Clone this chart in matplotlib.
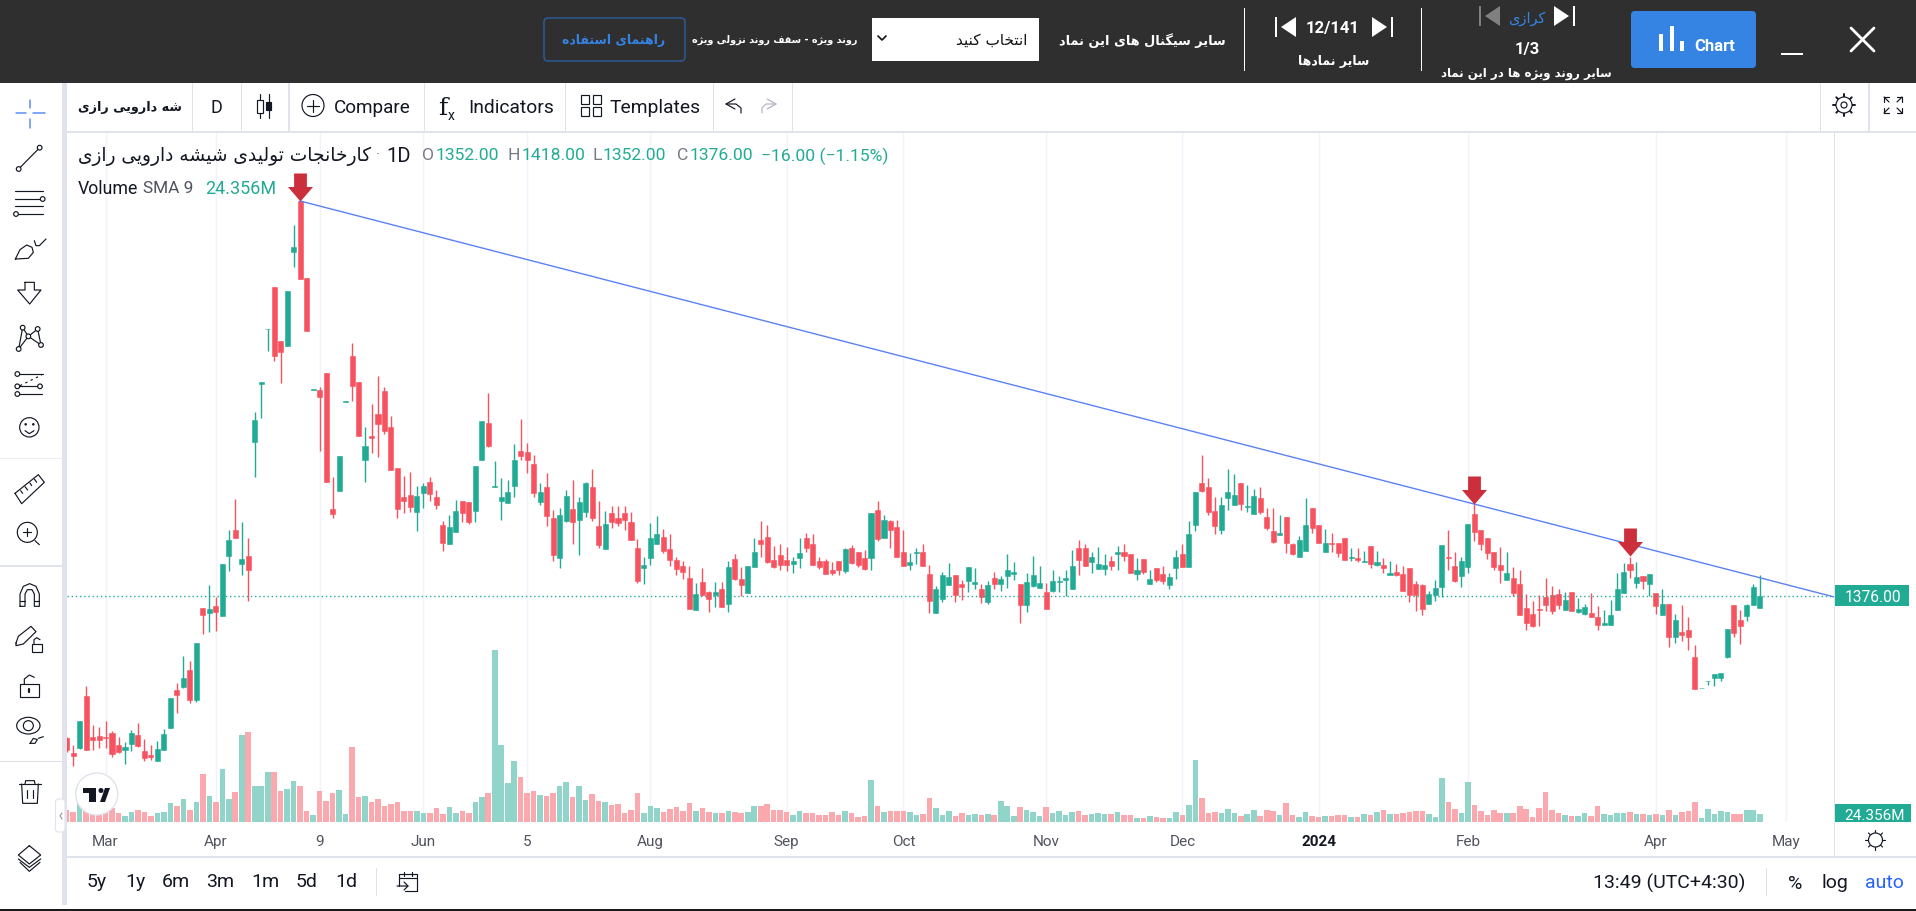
import matplotlib
matplotlib.use("Agg")
import matplotlib.pyplot as plt
from matplotlib.patches import Rectangle, Circle, Polygon, FancyBboxPatch, Ellipse
from matplotlib.path import Path

opens = [1092,1062,1072,1176,1094,1096,1094,1102,1078,1068,
1080,1098,1066,1058,1046,1068,1112,1188,1194,1228,
1168,1352,1342,1356,1336,1456,1508,1440,1456,1684,
1800,1910,1994,1886,1876,2064,2166,2012,1789,1788,
1822,1550,1586,1765,1856,1804,1648,1696,1740,1786,
1714,1632,1574,1578,1544,1582,1604,1574,1518,1480,
1504,1566,1564,1546,1648,1722,1595,1566,1562,1596,
1666,1664,1640,1564,1594,1532,1452,1526,1550,1528,
1544,1594,1516,1470,1542,1532,1542,1524,1472,1432,
1452,1480,1494,1470,1448,1436,1412,1348,1404,1384,
1378,1390,1360,1450,1410,1382,1434,1488,1494,1448,
1458,1448,1440,1452,1492,1480,1446,1446,1428,1446,
1426,1472,1464,1452,1452,1548,1492,1526,1514,1464,
1438,1462,1464,1420,1342,1370,1398,1418,1400,1406,
1400,1390,1364,1412,1400,1416,1420,1400,1358,1396,
1392,1384,1386,1404,1408,1390,1472,1472,1444,1430,
1430,1446,1460,1464,1460,1420,1450,1400,1432,1420,
1398,1432,1460,1434,1518,1602,1594,1546,1508,1572,
1558,1602,1554,1540,1572,1534,1506,1498,1534,1480,
1454,1466,1552,1518,1464,1482,1482,1492,1452,1452,
1444,1476,1438,1438,1418,1424,1420,1432,1400,1398,
1360,1378,1394,1454,1436,1416,1434,1540,1508,1492,
1464,1438,1408,1412,1400,1352,1340,1350,1374,1378,
1380,1348,1384,1344,1340,1342,1334,1318,1318,1348,
1382,1440,1402,1416,1400,1382,1338,1360,1294,1304,
1308,1254,1192,1206,1212,1212,1254,1358,1328,1336,
1358,1352]
highs = [1095,1078,1127,1196,1118,1114,1126,1106,1094,1084,
1108,1122,1090,1078,1086,1110,1172,1202,1256,1246,
1282,1352,1398,1375,1440,1508,1570,1524,1492,1744,
1804,1911,1994,1886,1986,2118,2166,2012,1790,1794,
1822,1614,1656,1766,1882,1804,1714,1760,1816,1794,
1736,1632,1616,1624,1596,1602,1614,1588,1526,1538,
1568,1566,1564,1636,1726,1782,1646,1612,1608,1680,
1730,1682,1658,1602,1622,1548,1552,1588,1608,1574,
1604,1630,1566,1546,1556,1556,1556,1544,1490,1454,
1522,1536,1510,1500,1454,1446,1436,1402,1432,1386,
1404,1404,1446,1460,1434,1436,1492,1526,1518,1476,
1480,1474,1454,1492,1502,1500,1454,1450,1444,1446,
1472,1478,1464,1468,1542,1566,1538,1528,1528,1508,
1462,1472,1480,1438,1396,1424,1442,1418,1408,1434,
1432,1400,1406,1424,1416,1460,1444,1400,1422,1456,
1436,1402,1428,1416,1428,1468,1488,1480,1464,1474,
1460,1456,1476,1480,1460,1452,1450,1428,1432,1436,
1422,1468,1480,1526,1584,1658,1612,1574,1574,1630,
1620,1602,1598,1590,1594,1552,1552,1538,1534,1482,
1496,1572,1552,1518,1510,1502,1482,1492,1472,1472,
1466,1476,1466,1452,1446,1440,1436,1432,1406,1400,
1386,1408,1478,1508,1464,1454,1520,1560,1508,1492,
1464,1474,1464,1434,1428,1380,1366,1378,1412,1396,
1390,1384,1384,1372,1360,1382,1356,1348,1368,1422,
1442,1454,1444,1416,1420,1382,1390,1360,1340,1358,
1334,1278,1193,1207,1220,1222,1310,1358,1348,1360,
1400,1418]
lows = [1065,1037,1071,1068,1068,1072,1072,1055,1063,1040,
1066,1074,1046,1048,1046,1068,1112,1142,1192,1162,
1164,1300,1304,1306,1336,1426,1492,1418,1366,1614,
1732,1866,1846,1802,1876,2034,2010,1906,1789,1666,
1604,1532,1586,1765,1766,1696,1604,1662,1654,1700,
1628,1532,1542,1544,1506,1552,1566,1550,1466,1480,
1504,1524,1520,1524,1648,1674,1595,1528,1562,1574,
1648,1622,1574,1558,1516,1446,1432,1524,1480,1458,
1534,1526,1472,1470,1512,1516,1508,1488,1402,1400,
1438,1480,1462,1436,1418,1410,1350,1348,1376,1344,
1354,1354,1344,1408,1376,1382,1434,1454,1442,1432,
1428,1426,1422,1432,1464,1438,1430,1420,1418,1418,
1422,1440,1434,1428,1428,1486,1492,1472,1454,1436,
1428,1440,1436,1342,1342,1364,1398,1364,1368,1384,
1390,1362,1360,1390,1386,1392,1408,1322,1344,1394,
1392,1350,1384,1384,1377,1390,1418,1436,1422,1430,
1418,1428,1428,1446,1422,1408,1420,1400,1404,1400,
1390,1410,1434,1434,1506,1584,1538,1500,1500,1548,
1558,1548,1544,1540,1540,1508,1482,1498,1462,1458,
1454,1466,1502,1482,1464,1464,1454,1448,1446,1444,
1444,1432,1436,1422,1418,1416,1386,1364,1346,1338,
1360,1366,1374,1428,1404,1394,1422,1486,1468,1450,
1428,1402,1408,1376,1338,1308,1314,1316,1346,1340,
1350,1348,1346,1342,1338,1334,1308,1318,1318,1348,
1382,1412,1392,1390,1376,1340,1338,1274,1282,1286,
1268,1190,1192,1198,1196,1206,1252,1294,1280,1326,
1358,1352]
closes = [1069,1056,1126,1069,1088,1089,1092,1060,1064,1074,
1102,1076,1052,1055,1070,1100,1172,1178,1212,1168,
1282,1338,1350,1344,1440,1488,1492,1450,1428,1728,
1804,1911,1856,1864,1986,2074,2010,1906,1790,1774,
1604,1540,1656,1766,1796,1696,1676,1692,1720,1706,
1628,1550,1566,1554,1576,1596,1580,1558,1482,1514,
1546,1542,1524,1636,1726,1676,1596,1574,1584,1648,
1656,1648,1582,1584,1536,1458,1538,1576,1524,1564,
1602,1532,1478,1520,1524,1522,1528,1488,1406,1438,
1492,1500,1466,1448,1430,1424,1350,1380,1378,1370,
1384,1354,1434,1410,1398,1436,1464,1480,1444,1434,
1438,1438,1446,1462,1472,1438,1434,1420,1422,1428,
1470,1442,1438,1430,1542,1490,1528,1508,1454,1436,
1444,1464,1436,1366,1390,1418,1414,1378,1394,1434,
1404,1374,1398,1400,1410,1428,1424,1358,1404,1418,
1402,1350,1406,1406,1412,1436,1448,1436,1454,1440,
1438,1436,1464,1456,1422,1428,1424,1410,1408,1406,
1414,1454,1434,1500,1584,1586,1544,1516,1558,1584,
1578,1560,1556,1576,1544,1512,1484,1502,1482,1460,
1488,1518,1512,1482,1482,1480,1462,1448,1454,1448,
1446,1440,1444,1432,1422,1418,1386,1378,1378,1350,
1380,1392,1478,1452,1406,1446,1520,1504,1480,1462,
1434,1428,1422,1382,1338,1322,1316,1348,1358,1346,
1358,1368,1346,1350,1354,1334,1318,1322,1338,1390,
1424,1428,1414,1406,1420,1356,1360,1294,1328,1298,
1294,1190,1193,1207,1220,1222,1310,1302,1316,1358,
1394,1376]
volumes = [36,30,65,40,34,30,34,42,27,18,
30,36,30,18,27,30,57,48,69,36,
60,144,78,60,159,69,90,261,270,108,
108,150,150,93,99,123,108,33,21,93,
63,87,96,24,225,75,78,60,69,48,
54,60,33,33,33,27,27,42,24,45,
27,33,27,60,75,87,516,231,117,183,
135,87,93,81,78,87,108,120,75,108,
66,84,63,60,51,54,27,36,87,27,
48,42,30,39,45,33,57,33,42,30,
27,27,33,30,27,30,48,48,54,36,
36,30,21,33,27,27,21,21,30,21,
33,27,15,18,126,48,30,33,33,33,
30,21,24,72,42,21,33,18,27,21,
24,21,24,21,63,48,18,45,36,30,
18,45,27,33,21,30,33,21,24,27,
24,24,30,21,21,12,12,18,15,12,
12,30,21,51,186,72,27,30,27,39,
27,18,24,36,18,36,33,21,57,21,
15,30,18,15,18,18,21,21,15,15,
24,21,30,36,24,24,27,30,33,33,
24,15,132,60,39,27,120,51,33,21,
36,27,27,27,48,39,15,42,90,36,
27,21,18,18,27,18,48,24,21,27,
27,30,24,24,21,24,21,36,21,30,
33,60,12,39,24,33,30,24,24,36,
36,24]
tick_idx = [6,23,39,55,71,90,111,129,151,172,193,216,245,265]
tick_labels = ["Mar","Apr","9","Jun","5","Aug","Sep","Oct","Nov","Dec","2024","Feb","Apr","May"]
arrow_idx = [36,217,241]
arrow_price = [2166,1560,1456]
trend_idx = [36,272.8]
trend_price = [2166,1373]
last_price = 1376

GREEN, RED = "#22AB94", "#F7525F"
VGREEN, VRED = "#91D5CA", "#FBA9AF"
GRID = "#F0F3FA"
BORDER = "#E0E3EB"
TEXT = "#131722"
DARK = "#2F2F2F"
BLUE = "#3584E4"
W, H = 1916, 912
plt.rcParams["font.family"] = ["Roboto", "DejaVu Sans"]

# Persian shaping: letter -> (isolated, final, initial, medial)
F = {'ا':(0xFE8D,0xFE8E),'آ':(0xFE81,0xFE82),'ب':(0xFE8F,0xFE90,0xFE91,0xFE92),'پ':(0xFB56,0xFB57,0xFB58,0xFB59),
'ت':(0xFE95,0xFE96,0xFE97,0xFE98),'ج':(0xFE9D,0xFE9E,0xFE9F,0xFEA0),'چ':(0xFB7A,0xFB7B,0xFB7C,0xFB7D),
'خ':(0xFEA5,0xFEA6,0xFEA7,0xFEA8),'د':(0xFEA9,0xFEAA),'ر':(0xFEAD,0xFEAE),'ز':(0xFEAF,0xFEB0),'ژ':(0xFB8A,0xFB8B),
'س':(0xFEB1,0xFEB2,0xFEB3,0xFEB4),'ش':(0xFEB5,0xFEB6,0xFEB7,0xFEB8),'ف':(0xFED1,0xFED2,0xFED3,0xFED4),
'ق':(0xFED5,0xFED6,0xFED7,0xFED8),'ک':(0xFB8E,0xFB8F,0xFB90,0xFB91),'گ':(0xFB92,0xFB93,0xFB94,0xFB95),
'ل':(0xFEDD,0xFEDE,0xFEDF,0xFEE0),'م':(0xFEE1,0xFEE2,0xFEE3,0xFEE4),'ن':(0xFEE5,0xFEE6,0xFEE7,0xFEE8),
'و':(0xFEED,0xFEEE),'ه':(0xFEE9,0xFEEA,0xFEEB,0xFEEC),'ی':(0xFBFC,0xFBFD,0xFBFE,0xFBFF)}
def fa(s):
    out = []
    for k, ch in enumerate(s):
        if ch not in F:
            out.append(ch); continue
        f = F[ch]
        p = s[k-1] if k else ''
        n = s[k+1] if k+1 < len(s) else ''
        jp = p in F and len(F[p]) == 4
        jn = n in F and len(f) == 4
        if jp and jn: c = f[3]
        elif jp: c = f[1]
        elif jn: c = f[2]
        else: c = f[0]
        out.append(chr(c))
    return "".join(reversed(out))

fig = plt.figure(figsize=(W/100, H/100), dpi=100, facecolor="white")
L, R, T, B = 67, 1835, 133, 823
rect = [L/W, 1-B/H, (R-L)/W, (B-T)/H]
xs = list(range(len(closes)))
xlim = (0.06, 272.6)

axv = fig.add_axes(rect, zorder=1)
axv.set_xlim(*xlim); axv.set_ylim(0, 2070)
axv.bar(xs, volumes, width=0.86, color=[VGREEN if c >= o else VRED for o, c in zip(opens, closes)], linewidth=0)
axv.set_xticks(tick_idx); axv.set_xticklabels([]); axv.set_yticks([])
axv.grid(axis="x", color=GRID, lw=1); axv.set_axisbelow(True)
axv.tick_params(length=0)
for s in axv.spines.values(): s.set_visible(False)

ax = fig.add_axes(rect, zorder=2)
ax.patch.set_alpha(0)
ax.set_xlim(*xlim); ax.set_ylim(924, 2304)
cols = [GREEN if c >= o else RED for o, c in zip(opens, closes)]
ax.vlines(xs, lows, highs, colors=cols, lw=1.0)
ax.bar(xs, [abs(c-o) for o, c in zip(opens, closes)], bottom=[min(o, c) for o, c in zip(opens, closes)],
       width=0.78, color=cols, edgecolor=cols, linewidth=0.4)
ax.axhline(last_price, color=GREEN, lw=1, ls=(0, (1, 2)), zorder=1)
ax.plot(trend_idx, trend_price, color="#5B82F5", lw=1.0, clip_on=False)
tip = Path([(0,0),(12.5,14.5),(6.4,14.5),(6.4,28),(-6.4,28),(-6.4,14.5),(-12.5,14.5),(0,0)], closed=True)
ax.scatter(arrow_idx, arrow_price, marker=tip, s=1626, color="#CC2F3C", linewidths=0, zorder=5, clip_on=False)
ax.set_xticks(tick_idx); ax.set_xticklabels(tick_labels, fontsize=11, color="#50535E")
ax.get_xticklabels()[10].set_fontweight("bold"); ax.get_xticklabels()[10].set_color(TEXT)
ax.set_yticks([]); ax.tick_params(length=0, pad=9)
for s in ax.spines.values(): s.set_visible(False)

ui = fig.add_axes([0, 0, 1, 1], zorder=3)
ui.patch.set_alpha(0); ui.set_xlim(0, W); ui.set_ylim(H, 0); ui.axis("off")

def rect_(x0, y0, x1, y1, fc, ec="none", lw=0, z=2):
    ui.add_patch(Rectangle((x0, y0), x1-x0, y1-y0, fc=fc, ec=ec, lw=lw, zorder=z))
def rr(x0, y0, x1, y1, fc, ec="none", lw=1, r=4, z=2):
    ui.add_patch(FancyBboxPatch((x0+r, y0+r), x1-x0-2*r, y1-y0-2*r, boxstyle=f"round,pad={r},rounding_size={r}", fc=fc, ec=ec, lw=lw, zorder=z))
def ln(px, py, c=TEXT, lw=0.85, z=4, **k):
    ui.plot(px, py, color=c, lw=lw, zorder=z, solid_capstyle="round", **k)
def tri(pts, c, z=4):
    ui.add_patch(Polygon(pts, closed=True, fc=c, ec="none", zorder=z))
def cir(x, y, r, c=TEXT, lw=0.85, fc="white", z=5):
    ui.add_patch(Circle((x, y), r, fc=fc, ec=c, lw=lw, zorder=z))
def tx(x, y, s, size=11, c=TEXT, ha="left", bold=False, fam=None, z=6):
    ui.text(x, y, s, fontsize=size, color=c, ha=ha, va="center_baseline", fontweight="bold" if bold else "normal",
            family=fam if fam else ["Roboto", "DejaVu Sans"], zorder=z)
FA = ["DejaVu Sans"]

# header
rect_(0, 0, W, 84, DARK)
rr(544, 19, 685, 62, "none", ec="#2D5E9E", lw=1, r=4)
tx(614, 39, fa("راهنمای استفاده"), 9, BLUE, "center", True, FA)
tx(775, 39, fa("روند ویژه - سقف روند نزولی ویژه"), 6.9, "white", "center", True, FA)
rect_(872, 18.5, 1039, 61.5, "white")
ln([878, 882, 886], [37, 41, 37], "#111111", 1.2)
tx(1027, 39, fa("انتخاب کنید"), 11, "#111111", "right", False, FA)
tx(1226, 39, fa("سایر سیگنال های این نماد"), 9.3, "white", "right", True, FA)
rect_(1244.5, 9, 1245.5, 72, "white"); rect_(1421.5, 9, 1422.5, 72, "white")
def skip(x0, y0, h, left, c):
    w = 16
    if left:
        rect_(x0, y0, x0+2, y0+h, c, z=4); tri([(x0+w+5, y0), (x0+w+5, y0+h), (x0+6, y0+h/2)], c)
    else:
        rect_(x0+w+3, y0, x0+w+5, y0+h, c, z=4); tri([(x0, y0), (x0, y0+h), (x0+w-1, y0+h/2)], c)
skip(1275, 18, 20, True, "white"); skip(1372, 18, 20, False, "white")
tx(1332.5, 27, "12/141", 12, "white", "center", True)
tx(1334, 60, fa("سایر نمادها"), 9, "white", "center", True, FA)
skip(1479, 7, 20, True, "#808080"); skip(1554, 7, 20, False, "white")
tx(1526.5, 17, fa("کرازی"), 10.5, BLUE, "center", False, FA)
tx(1527, 48, "1/3", 12, "white", "center", True)
tx(1526, 72, fa("سایر روند ویژه ها در این نماد"), 8.5, "white", "center", True, FA)
rr(1631, 12, 1756, 69, BLUE, r=4)
for bx, by in [(1661, 35), (1672, 27), (1682, 42)]:
    rect_(bx-2, by, bx+2, 52, "white", z=4)
tx(1715, 45, "Chart", 12, "white", "center", True)
rect_(1781, 53.5, 1803, 56, "white", z=4)
ln([1851, 1874], [29, 52], "white", 2); ln([1851, 1874], [52, 29], "white", 2)

# toolbar
rect_(62, 84, 67, 906, BORDER, z=3)
rect_(0, 566, 62, 567.5, BORDER); rect_(0, 761.5, 62, 763, BORDER); rect_(0, 459, 62, 460, "#EDEEF2")
rect_(67, 132, W, 133.5, BORDER, z=3)
for x, wd in [(192, 1), (241, 1), (288, 2), (424, 1), (565, 1), (713, 1), (792, 1), (1820, 1), (1868, 2)]:
    rect_(x, 84, x+wd, 132, BORDER)
tx(78, 106, fa("شه دارویی رازی"), 9.2, TEXT, "left", True, FA)
tx(216, 106, "D", 13, TEXT, "center")
ln([260, 260], [95, 119]); rect_(257, 101, 263, 114, "white", TEXT, .85, z=5)
ln([269, 269], [95, 119]); rect_(266.5, 103, 271.5, 111, TEXT, TEXT, .85, z=5)
cir(313, 106.5, 11); ln([307, 319], [106.5, 106.5], z=6); ln([313, 313], [100.5, 112.5], z=6)
tx(334, 106, "Compare", 13.6)
tx(438, 106, "f", 18, TEXT, "left", False, ["DejaVu Serif"]); tx(448, 114, "x", 10)
tx(468, 106, "Indicators", 13.9)
for gx in (585, 597):
    for gy in (100, 112):
        ui.add_patch(Rectangle((gx-4, gy-4), 8.5, 8.5, fc="white", ec=TEXT, lw=.85, zorder=5))
tx(610, 106, "Templates", 13.9)
ln([735, 726, 735], [100, 105, 110]); ln([726, 736, 741, 741], [105, 105, 109, 114])
ln([767, 776, 767], [100, 105, 110], "#B2B5BE"); ln([776, 766, 762, 762], [105, 105, 109, 114], "#B2B5BE")
cir(1844, 106, 8, z=5); cir(1844, 106, 3, z=6)
for a, b in [(0, 1), (1, 0), (0.7, .7), (-.7, .7), (.7, -.7), (-.7, -.7), (-1, 0), (0, -1)]:
    ln([1844+8*a, 1844+11*a], [106+8*b, 106+11*b], lw=1.4)
for dx, dy in [(-1, -1), (1, -1), (-1, 1), (1, 1)]:
    cx, cy = 1893+dx*9, 106+dy*8
    ln([cx, cx-dx*5], [cy, cy-dy*5]); ln([cx, cx-dx*5], [cy, cy]); ln([cx, cx], [cy, cy-dy*5])

# legend
tx(78, 154, fa("کارخانجات تولیدی شیشه دارویی رازی"), 13.4, TEXT, "left", False, FA)
tx(378, 154, "·", 11, "#787B86", "center")
tx(386, 154, "1D", 14.5, TEXT)
for x, s, c in [(422, "O", "#787B86"), (436, "1352.00", GREEN), (508, "H", "#787B86"), (522, "1418.00", GREEN),
                (593, "L", "#787B86"), (603, "1352.00", GREEN), (677, "C", "#787B86"), (690, "1376.00", GREEN),
                (761, "−16.00 (−1.15%)", GREEN)]:
    tx(x, 154, s, 12.6, c)
tx(78, 187, "Volume", 12.8); tx(143, 187, "SMA 9", 12.4, "#50535E"); tx(205, 187, "24.356M", 13, GREEN)

# sidebar icons (coordinates read as zoom pixels)
def Z(pts, oy=90):
    return [p[0]/3 for p in pts], [oy+p[1]/3 for p in pts]
def zl(pts, oy=90, c=TEXT, lw=.85, **k):
    a, b = Z(pts, oy); ln(a, b, c, lw, **k)
def zc(x, y, r, oy=90, **k):
    cir(x/3, oy+y/3, r/3, **k)
XB = "#5B8DF5"
zl([(89, 32), (89, 58)], c=XB, lw=1.1); zl([(89, 90), (89, 117)], c=XB, lw=1.1)
zl([(47, 73), (78, 73)], c=XB, lw=1.1); zl([(100, 73), (134, 73)], c=XB, lw=1.1)
zl([(56, 240), (119, 176)]); zc(56, 240, 7); zc(119, 176, 7)
zl([(46, 307), (130, 307)]); zl([(46, 330), (128, 330)]); zl([(46, 352), (130, 352)]); zl([(48, 375), (130, 375)])
zc(128, 330, 7); zc(48, 375, 7)
zl([(46, 510), (60, 482), (80, 468), (96, 475), (100, 490), (85, 508), (46, 510)])
zl([(103, 455), (108, 470), (118, 470), (138, 450)])
tri_pts = [(75, 580), (103, 580), (103, 603), (123, 603), (89, 645), (53, 603), (75, 603), (75, 580)]
zl(tri_pts)
zl([(56, 780), (68, 716), (85, 742), (113, 720), (123, 768), (85, 742), (56, 780)])
for p in [(56, 780), (68, 716), (85, 742), (113, 720), (123, 768)]: zc(*p, 7)
zl([(52, 855), (130, 855)]); zl([(52, 892), (125, 892)]); zl([(52, 915), (125, 915)])
a, b = Z([(60, 890), (125, 858)]); ui.plot(a, b, color=TEXT, lw=.85, ls=(0, (2, 3)), zorder=4)
for p in [(52, 855), (52, 892), (120, 892), (52, 915)]: zc(*p, 7)
zc(88, 1015, 29); zc(77, 1006, 2, fc=TEXT, z=6); zc(100, 1006, 2, fc=TEXT, z=6)
zl([(75, 1025), (88, 1034), (102, 1025)], z=6)
zl([(45, 1213), (115, 1157), (133, 1180), (65, 1244), (45, 1213)])
for t in [(62, 1205, 68, 1213), (75, 1193, 83, 1203), (90, 1182, 95, 1190), (103, 1170, 110, 1180)]:
    zl([(t[0], t[1]), (t[2], t[3])])
zc(82, 1330, 30); zl([(70, 1330), (94, 1330)], z=6); zl([(82, 1318), (82, 1342)], z=6); zl([(105, 1355), (118, 1367)])
O = 550
zl([(60, 172), (60, 135), (70, 112), (89, 104), (108, 112), (118, 135), (118, 172), (103, 172), (103, 135), (96, 122), (82, 122), (75, 135), (75, 172), (60, 172)], O)
zl([(60, 155), (75, 155)], O); zl([(103, 155), (118, 155)], O)
zl([(48, 282), (55, 262), (93, 232), (108, 248), (70, 285), (48, 290), (48, 282)], O)
rect_(95/3, O+285/3, 125/3, O+310/3, "white", TEXT, .85, z=5)
zl([(102, 285), (102, 272), (110, 266), (120, 272)], O, z=5)
rect_(60/3, O+405/3, 118/3, O+445/3, "white", TEXT, .85, z=5)
zl([(73, 405), (73, 390), (88, 378), (103, 385)], O); zl([(88, 420), (88, 430)], O, lw=1.6, z=6)
ui.add_patch(Ellipse((85/3, O+530/3), 70/3, 50/3, fc="white", ec=TEXT, lw=.85, zorder=5)); zc(85, 530, 15, O, z=6)
zl([(90, 583), (100, 568), (112, 572), (105, 583), (90, 583)], O, z=6); zl([(115, 568), (130, 563)], O, z=6)
zl([(56, 705), (122, 705)], O); zl([(75, 705), (77, 695), (103, 695), (105, 705)], O)
zl([(65, 705), (68, 763), (112, 763), (115, 705)], O); zl([(80, 722), (80, 748)], O); zl([(98, 722), (98, 748)], O)
zl([(88, 890), (122, 918), (88, 945), (55, 918), (88, 890)], O)
zl([(55, 930), (88, 955), (122, 930)], O); zl([(60, 940), (88, 967), (120, 940)], O)
rr(55.5, 800, 65, 833, "white", ec=BORDER, lw=.8, r=3, z=6)
zl([(186, 792), (180, 800), (186, 810)], O, c="#9598A1", z=7)

# time axis and price axis
rect_(R-0.5, 133, R+0.5, 858, BORDER, z=1)
rect_(67, 857.5, W, 859, BORDER, z=1)
rect_(R, 586, 1909, 607, GREEN, z=3)
tx(1873.5, 596.5, f"{last_price:.2f}", 11.2, "white", "center")
rect_(R, 805, 1911, 823, GREEN, z=3)
tx(1875, 815, "24.356M", 11, "white", "center")
cir(1875.5, 841, 7)
for a, b in [(0, 1), (1, 0), (0, -1), (-1, 0), (.7, .7), (-.7, .7), (.7, -.7), (-.7, -.7)]:
    ln([1875.5+7*a, 1875.5+10*a], [841+7*b, 841+10*b])
for x, s in [(97, "5y"), (135, "1y"), (176, "6m"), (220, "3m"), (265, "1m"), (307, "5d"), (346, "1d")]:
    tx(x, 880, s, 14, TEXT, "center")
rect_(376, 869, 377, 897, BORDER)
ln([399, 399, 417, 417, 405], [887, 875, 875, 892, 892]); ln([399, 417], [879, 879])
ln([404, 404], [873, 877]); ln([412, 412], [873, 877]); ln([397, 408, 404], [887, 887, 891]); ln([408, 404], [887, 883])
tx(1669, 881, "13:49 (UTC+4:30)", 14, TEXT, "center")
rect_(1766, 869, 1767, 897, BORDER)
tx(1795.5, 882, "%", 14, TEXT, "center"); tx(1835, 881, "log", 14, TEXT, "center"); tx(1884.5, 881, "auto", 14, "#2962FF", "center")
rect_(0, 910.5, W, 912, "#1A1A1A")

# watermark logo
cir(96.7, 795, 21, c="#E0E3EB", lw=1, z=3)
rect_(83, 789, 96, 794, TEXT, z=4); rect_(89, 789, 96, 803, TEXT, z=4)
cir(101, 791.5, 2.5, c=TEXT, fc=TEXT, lw=0, z=4)
tri([(100, 803), (105, 803), (110, 789), (105, 789)], TEXT)

fig.savefig("out.png", dpi=100)
